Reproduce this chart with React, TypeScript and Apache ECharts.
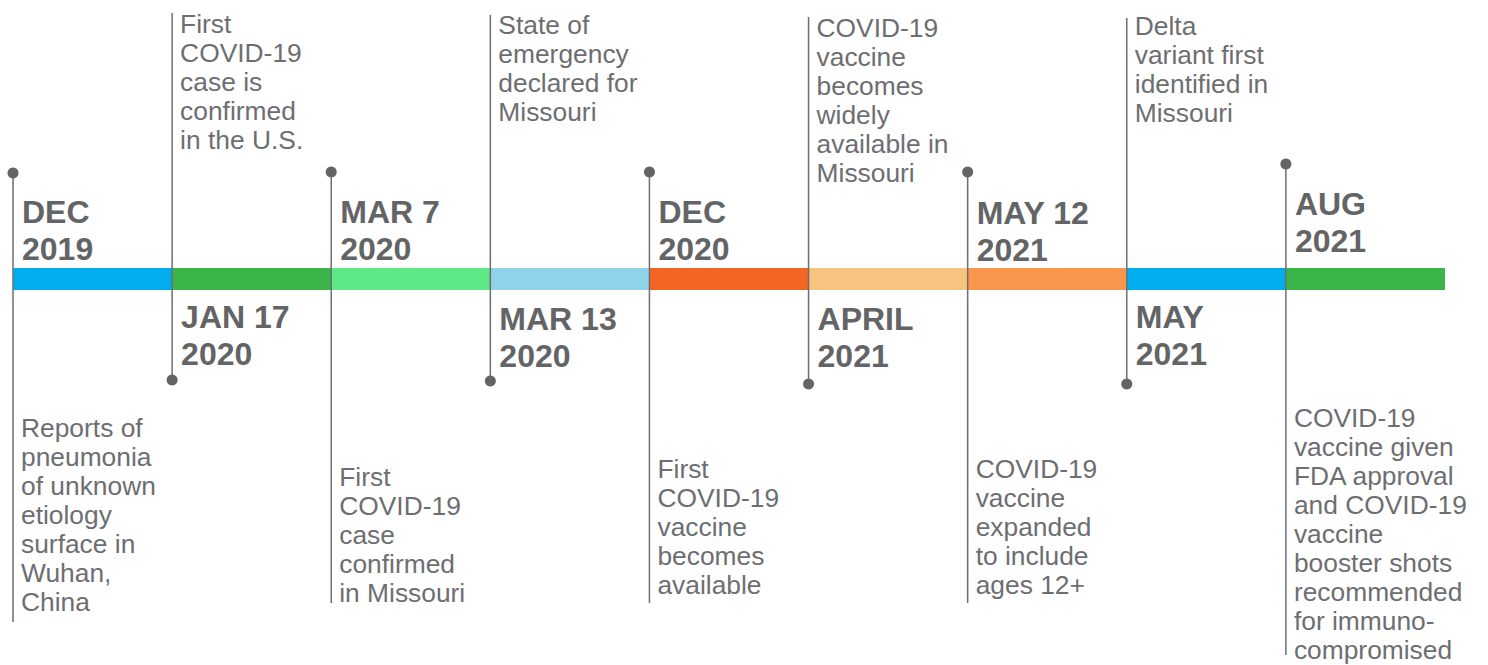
import React, { useEffect, useRef } from "react";
import * as echarts from "echarts";

// ---- data ----
const dateLabels = [
  "DEC\n2019",
  "JAN 17\n2020",
  "MAR 7\n2020",
  "MAR 13\n2020",
  "DEC\n2020",
  "APRIL\n2021",
  "MAY 12\n2021",
  "MAY\n2021",
  "AUG\n2021",
];
const descriptions = [
  "Reports of\npneumonia\nof unknown\netiology\nsurface in\nWuhan,\nChina",
  "First\nCOVID-19\ncase is\nconfirmed\nin the U.S.",
  "First\nCOVID-19\ncase\nconfirmed\nin Missouri",
  "State of\nemergency\ndeclared for\nMissouri",
  "First\nCOVID-19\nvaccine\nbecomes\navailable",
  "COVID-19\nvaccine\nbecomes\nwidely\navailable in\nMissouri",
  "COVID-19\nvaccine\nexpanded\nto include\nages 12+",
  "Delta\nvariant first\nidentified in\nMissouri",
  "COVID-19\nvaccine given\nFDA approval\nand COVID-19\nvaccine\nbooster shots\nrecommended\nfor immuno-\ncompromised",
];
const segmentColors = [
  "#00AEEF",
  "#39B54A",
  "#5DE886",
  "#8FD3EA",
  "#F26522",
  "#F6C47E",
  "#F9964C",
  "#00AEEF",
  "#39B54A",
];

// ---- layout (pixel rows on the vertical axis) ----
const BAR_TOP = 268;
const BAR_BOTTOM = 290;
const dotY = [173, 380, 172, 381, 172, 384, 172, 384, 164];
const lineEndY = [622, 13, 603, 15, 603, 17, 603, 18, 655];
const dateTopY = [193, 298, 193, 300, 193, 300, 194, 298, 185];
const descTopY = [414, 10, 463, 11, 455, 14, 455, 12, 404];

const TEXT_COLOR = "#636466";
const DESC_COLOR = "#6D6E71";
const LINE_COLOR = "#6D6E71";
const FONT = "'Liberation Sans', Arial, Helvetica, sans-serif";

export default function App() {
  const ref = useRef<HTMLDivElement>(null);
  useEffect(() => {
    document.body.style.margin = "0";
    const chart = echarts.init(ref.current!, undefined, { renderer: "svg" });
    const idx = dateLabels.map((_, i) => i);
    chart.setOption({
      animation: false,
      backgroundColor: "#ffffff",
      grid: { left: 13, right: 43, top: 0, bottom: 0 },
      xAxis: { type: "value", min: 0, max: dateLabels.length, show: false },
      yAxis: { type: "value", min: 0, max: 665, inverse: true, show: false },
      series: [
        {
          type: "custom",
          z: 1,
          data: idx,
          renderItem: (params: any, api: any) => {
            const i = api.value(0);
            const p0 = api.coord([i, BAR_TOP]);
            const p1 = api.coord([i + 1, BAR_BOTTOM]);
            return {
              type: "rect",
              shape: { x: p0[0], y: p0[1], width: p1[0] - p0[0], height: p1[1] - p0[1] },
              style: { fill: segmentColors[i] },
            };
          },
        },
        {
          type: "custom",
          z: 2,
          data: idx,
          renderItem: (params: any, api: any) => {
            const i = api.value(0);
            const dot = api.coord([i, dotY[i]]);
            const end = api.coord([i, lineEndY[i]]);
            const dateP = api.coord([i, dateTopY[i]]);
            const descP = api.coord([i, descTopY[i]]);
            const x = dot[0];
            return {
              type: "group",
              children: [
                {
                  type: "line",
                  shape: { x1: x, y1: dot[1], x2: x, y2: end[1] },
                  style: { stroke: LINE_COLOR, lineWidth: 1.5 },
                },
                {
                  type: "circle",
                  shape: { cx: x, cy: dot[1], r: 5.5 },
                  style: { fill: TEXT_COLOR },
                },
                {
                  type: "text",
                  x: x + 9,
                  y: dateP[1],
                  style: {
                    text: dateLabels[i],
                    fill: TEXT_COLOR,
                    fontFamily: FONT,
                    fontWeight: "bold",
                    fontSize: 32,
                    lineHeight: 37,
                    align: "left",
                    verticalAlign: "top",
                  },
                },
                {
                  type: "text",
                  x: x + 8,
                  y: descP[1],
                  scaleX: 1.055,
                  style: {
                    text: descriptions[i],
                    fill: DESC_COLOR,
                    fontFamily: FONT,
                    fontSize: 25,
                    lineHeight: 29,
                    align: "left",
                    verticalAlign: "top",
                  },
                },
              ],
            };
          },
        },
      ],
    });
    return () => chart.dispose();
  }, []);
  return <div ref={ref} style={{ width: 1488, height: 665 }} />;
}
